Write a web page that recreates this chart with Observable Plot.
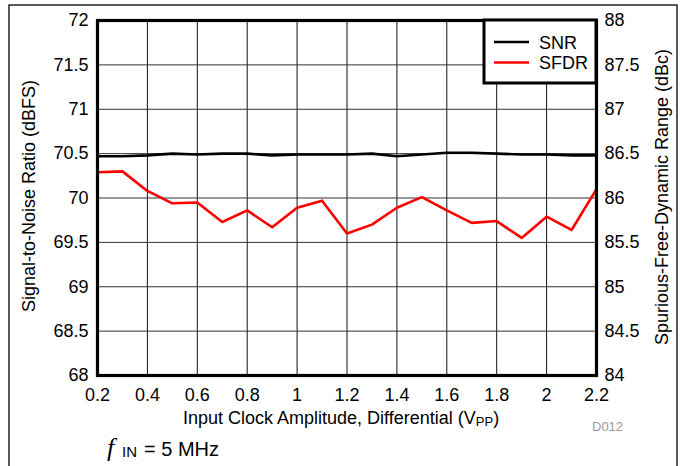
<!DOCTYPE html>
<html><head><meta charset="utf-8">
<script src="https://cdn.jsdelivr.net/npm/d3@7"></script>
<script src="https://cdn.jsdelivr.net/npm/@observablehq/plot@0.6"></script>
<style>body{margin:0;background:#fff} svg{display:block}</style>
</head><body><div id="chart"></div>
<script>
const amplitude = [0.2,0.3,0.4,0.5,0.6,0.7,0.8,0.9,1.0,1.1,1.2,1.3,1.4,1.5,1.6,1.7,1.8,1.9,2.0,2.1,2.2];
const snr  = [70.47,70.47,70.48,70.50,70.49,70.50,70.50,70.48,70.49,70.49,70.49,70.50,70.47,70.49,70.51,70.51,70.50,70.49,70.49,70.48,70.48];
const sfdr = [86.29,86.30,86.08,85.94,85.95,85.73,85.86,85.67,85.89,85.97,85.60,85.70,85.89,86.01,85.86,85.72,85.74,85.55,85.79,85.64,86.10];
const xTicks = [0.2,0.4,0.6,0.8,1.0,1.2,1.4,1.6,1.8,2.0,2.2];
const leftTicks = [68,68.5,69,69.5,70,70.5,71,71.5,72];
const rightOffset = 16; // right axis (dBc) = left axis (dBFS) + 16
const seriesNames = ["SNR","SFDR"];
const seriesColors = ["#000000","#ff0000"];

const data = amplitude.map((a,i)=>({a, snr: snr[i], sfdr: sfdr[i]}));
const fmt = d => String(+(+d).toFixed(2));

const chart = Plot.plot({
  width: 683, height: 466,
  marginLeft: 97, marginRight: 87, marginTop: 20, marginBottom: 91,
  style: {fontSize: "18px", fontFamily: "'Liberation Sans', Arial, sans-serif", color: "#000", background: "#fff"},
  x: {domain: [0.2, 2.2]},
  y: {domain: [68, 72]},
  marks: [
    Plot.gridX(xTicks, {stroke: "#111", strokeOpacity: 1, strokeWidth: 1}),
    Plot.gridY(leftTicks, {stroke: "#333", strokeOpacity: 1, strokeWidth: 1}),
    Plot.axisX({ticks: xTicks, tickSize: 0, tickPadding: 13, tickFormat: fmt, label: null}),
    Plot.axisY({anchor: "left", ticks: leftTicks, tickSize: 0, tickPadding: 9, tickFormat: fmt, label: null}),
    Plot.axisY({anchor: "right", ticks: leftTicks, tickSize: 0, tickPadding: 8, tickFormat: d => fmt(d + rightOffset), label: null}),
    Plot.line(data, {x: "a", y: d => d.sfdr - rightOffset, stroke: seriesColors[1], strokeWidth: 2.6}),
    Plot.line(data, {x: "a", y: "snr", stroke: seriesColors[0], strokeWidth: 2.6}),
    Plot.frame({stroke: "#000", strokeWidth: 3.2})
  ]
});
document.getElementById("chart").appendChild(chart);

const svg = d3.select(chart);
const ns = "'Liberation Sans', Arial, sans-serif";
// outer border
svg.append("rect").attr("x", 9).attr("y", 5).attr("width", 668).attr("height", 470)
  .attr("fill", "none").attr("stroke", "#000").attr("stroke-width", 1.3);

// legend
const lg = svg.append("g").attr("text-anchor", "start");
lg.append("rect").attr("x", 484).attr("y", 20).attr("width", 112).attr("height", 63)
  .attr("fill", "#fff").attr("stroke", "#000").attr("stroke-width", 3);
seriesNames.forEach((n, i) => {
  const yy = 42 + i * 20.5;
  lg.append("line").attr("x1", 494).attr("x2", 529).attr("y1", yy).attr("y2", yy)
    .attr("stroke", seriesColors[i]).attr("stroke-width", 2.6);
  lg.append("text").attr("x", 539).attr("y", yy + 6.5).attr("font-size", 18).attr("font-family", ns).text(n);
});

// axis titles
svg.append("text").attr("transform", "translate(35,196) rotate(-90)").attr("text-anchor", "middle")
  .attr("font-size", 18).attr("font-family", ns).text("Signal-to-Noise Ratio (dBFS)");
svg.append("text").attr("transform", "translate(668,197) rotate(-90)").attr("text-anchor", "middle")
  .attr("font-size", 18).attr("font-family", ns).text("Spurious-Free-Dynamic Range (dBc)");
const xl = svg.append("text").attr("x", 183).attr("y", 424).attr("text-anchor", "start")
  .attr("font-size", 18).attr("font-family", ns);
xl.append("tspan").text("Input Clock Amplitude, Differential (V");
xl.append("tspan").attr("font-size", 13).attr("dy", 2).text("PP");
xl.append("tspan").attr("dy", -2).text(")");

svg.append("text").attr("x", 592).attr("y", 431).attr("text-anchor", "start").attr("font-size", 13).attr("fill", "#999")
  .attr("font-family", ns).text("D012");

const fi = svg.append("text").attr("x", 107).attr("y", 456).attr("text-anchor", "start").attr("font-size", 20).attr("font-family", ns);
fi.append("tspan").attr("font-family", "'Liberation Serif', serif").attr("font-style", "italic").attr("font-size", 26).text("f");
fi.append("tspan").attr("x", 122).attr("font-size", 15).attr("dy", 1).text("IN");
fi.append("tspan").attr("x", 144).attr("dy", -1).text("= 5 MHz");
</script>
</body></html>
